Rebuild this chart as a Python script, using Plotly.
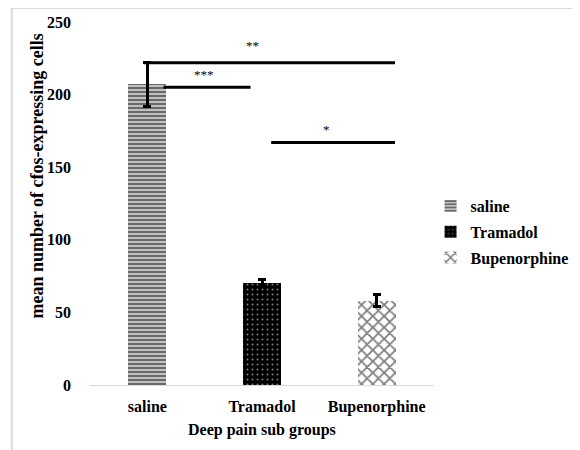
import plotly.graph_objects as go

categories = ["saline", "Tramadol", "Bupenorphine"]
means = [207, 70, 58]
errors = [15, 2.5, 4]
y_ticks = [0, 50, 100, 150, 200, 250]

# significance brackets: (x start, x end, height, label, label x, label y)
bracket_x0 = [-0.03, 0.14, 1.08]
bracket_x1 = [2.16, 0.90, 2.16]
bracket_y = [222, 205, 167]
bracket_labels = ["**", "***", "*"]
label_x = [0.92, 0.49, 1.565]
label_y = [234, 214, 176]

FONT = "Liberation Serif"

patterns = [
    dict(shape="-", fgcolor="#111111", bgcolor="#c0c0c0", size=4, solidity=0.5),
    dict(shape=".", fgcolor="#ffffff", bgcolor="#000000", size=5, solidity=0.12),
    dict(shape="x", fgcolor="#000000", bgcolor="#ffffff", size=8, solidity=0.4),
]

fig = go.Figure()
for i, cat in enumerate(categories):
    fig.add_trace(go.Bar(
        x=[cat], y=[means[i]], name=cat, width=0.33,
        legendgroup=cat,
        marker=dict(color="#000000", pattern=patterns[i], line=dict(width=0)),
        error_y=dict(type="data", array=[errors[i]], color="#000000",
                     thickness=3, width=4, visible=True),
    ))

shapes = []
for x0, x1, yv in zip(bracket_x0, bracket_x1, bracket_y):
    shapes.append(dict(type="line", xref="x", yref="y", x0=x0, x1=x1, y0=yv, y1=yv,
                       line=dict(color="#000000", width=3)))
# outer chart border
shapes.append(dict(type="rect", xref="paper", yref="paper",
                   x0=-0.2275, x1=1.416, y0=-0.19, y1=1.0386,
                   line=dict(color="#d9d9d9", width=2), layer="below"))

annotations = []
for t, lx, ly in zip(bracket_labels, label_x, label_y):
    annotations.append(dict(x=lx, y=ly, xref="x", yref="y", text=t, showarrow=False,
                            xanchor="center", yanchor="middle",
                            font=dict(family=FONT, size=13, color="#000000")))
annotations.append(dict(x=-0.155, y=0.576, xref="paper", yref="paper",
                        xanchor="center", yanchor="middle",
                        text="mean number of cfos-expressing cells", textangle=-90,
                        showarrow=False,
                        font=dict(family=FONT, size=18, color="#000000", weight="bold")))
annotations.append(dict(x=0.5, y=-0.124, xref="paper", yref="paper",
                        xanchor="center", yanchor="middle",
                        text="Deep pain sub groups", showarrow=False,
                        font=dict(family=FONT, size=16, color="#000000", weight="bold")))

# page body has an 8px margin, so the figure is 8px smaller and offset
fig.update_layout(
    width=572, height=442,
    margin=dict(l=81.5, r=145.5, t=14, b=65, autoexpand=False),
    paper_bgcolor="#ffffff", plot_bgcolor="#ffffff",
    showlegend=True,
    legend=dict(x=0.99, y=0.54, xanchor="left", yanchor="top",
                font=dict(family=FONT, size=16, color="#000000", weight="bold"),
                tracegroupgap=2, itemwidth=30, bgcolor="rgba(0,0,0,0)"),
    xaxis=dict(range=[-0.5, 2.5], showline=True, linecolor="#d9d9d9", linewidth=1,
               showgrid=False, ticks="", ticklabelstandoff=7, automargin=False,
               tickfont=dict(family=FONT, size=16, color="#000000", weight="bold")),
    yaxis=dict(range=[0, 250], tickvals=y_ticks, showline=False, showgrid=False,
               zeroline=False, ticks="", ticklabelstandoff=18, automargin=False,
               tickfont=dict(family=FONT, size=16, color="#000000", weight="bold")),
    shapes=shapes, annotations=annotations,
    bargap=0,
)

fig.write_html("out.html")
